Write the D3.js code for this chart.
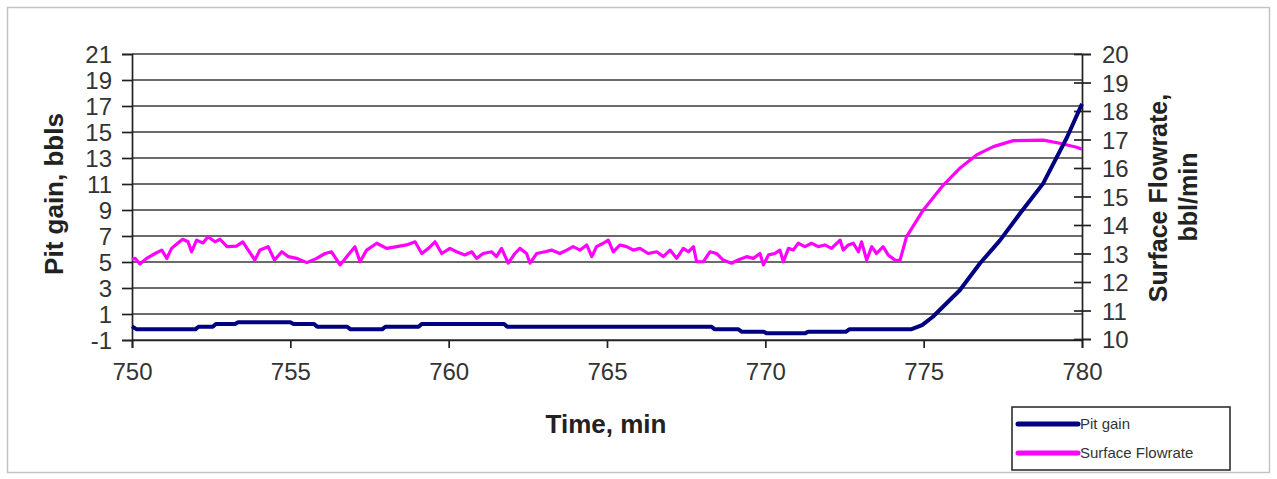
<!DOCTYPE html>
<html>
<head>
<meta charset="utf-8">
<script src="https://cdn.jsdelivr.net/npm/d3@7/dist/d3.min.js"></script>

<style>

  body, html {
    padding: 0;
    margin: 0;
    background: #fff;
  }

  svg {
    display: block;
    font-family: "Liberation Sans", Arial, sans-serif;
  }

</style>
</head>

<body>
  <svg width="1277" height="479"></svg>

  <script>

    // pit gain, bbls (left axis)
    var pitTime = [750, 750.15, 752.0, 752.1, 752.55, 752.65, 753.25, 753.35, 755.0, 755.1,
      755.75, 755.85, 756.8, 756.9, 757.9, 758.0, 759.05, 759.15, 761.75, 761.85,
      768.3, 768.4, 769.15, 769.25, 769.95, 770.05, 771.25, 771.35, 772.55, 772.65,
      774.6, 774.95, 775.29, 776.14, 776.78, 777.41, 778.04, 778.77, 779.52, 780];
    var pitGain = [0.05, -0.18, -0.18, 0.02, 0.02, 0.23, 0.23, 0.36, 0.36, 0.23,
      0.23, 0.02, 0.02, -0.18, -0.18, 0.02, 0.02, 0.23, 0.23, 0.02,
      0.02, -0.18, -0.18, -0.36, -0.36, -0.49, -0.49, -0.36, -0.36, -0.18,
      -0.18, 0.15, 0.79, 2.83, 4.9, 6.66, 8.73, 11.03, 14.56, 17.16];

    // surface flowrate, bbl/min (right axis)
    var flowTime = [750, 750.1, 750.25, 750.46, 750.73, 750.94, 751.1, 751.25, 751.45, 751.6,
      751.77, 751.88, 752.04, 752.24, 752.4, 752.62, 752.78, 753.0, 753.3, 753.5,
      753.67, 753.88, 754.04, 754.3, 754.5, 754.73, 754.94, 755.2, 755.52, 755.83,
      756.1, 756.3, 756.57, 756.78, 757.04, 757.2, 757.41, 757.73, 758.04, 758.36,
      758.67, 758.94, 759.15, 759.36, 759.57, 759.78, 760.04, 760.25, 760.51, 760.73,
      760.88, 761.09, 761.36, 761.51, 761.67, 761.88, 762.09, 762.25, 762.46, 762.57,
      762.78, 763.04, 763.25, 763.51, 763.73, 763.93, 764.15, 764.36, 764.52, 764.67,
      764.88, 765.04, 765.2, 765.41, 765.62, 765.83, 766.04, 766.3, 766.57, 766.78,
      766.99, 767.2, 767.41, 767.57, 767.73, 767.83, 768.04, 768.25, 768.46, 768.67,
      768.93, 769.14, 769.41, 769.62, 769.83, 769.94, 770.1, 770.3, 770.46, 770.57,
      770.73, 770.88, 771.04, 771.25, 771.46, 771.67, 771.88, 772.09, 772.36, 772.46,
      772.62, 772.78, 772.94, 773.04, 773.2, 773.36, 773.51, 773.72, 773.88, 774.09,
      774.25, 774.46, 774.99, 775.62, 776.14, 776.67, 777.2, 777.83, 778.78, 779.3,
      779.83, 780];
    var flowRate = [12.8, 12.83, 12.63, 12.83, 13.0, 13.12, 12.83, 13.18, 13.37, 13.5,
      13.41, 13.06, 13.47, 13.37, 13.59, 13.41, 13.5, 13.24, 13.26, 13.41,
      13.12, 12.77, 13.12, 13.24, 12.77, 13.06, 12.89, 12.83, 12.68, 12.83,
      13.0, 13.06, 12.6, 12.89, 13.24, 12.71, 13.12, 13.36, 13.18, 13.24,
      13.3, 13.41, 13.0, 13.18, 13.41, 13.0, 13.18, 13.06, 12.95, 13.06,
      12.83, 13.0, 13.06, 12.89, 13.18, 12.66, 13.0, 13.18, 13.0, 12.66,
      13.0, 13.06, 13.12, 13.0, 13.12, 13.24, 13.12, 13.3, 12.89, 13.24,
      13.36, 13.47, 13.06, 13.3, 13.24, 13.12, 13.18, 13.0, 13.06, 12.89,
      13.12, 12.83, 13.18, 13.06, 13.24, 12.71, 12.71, 13.06, 13.0, 12.77,
      12.66, 12.77, 12.89, 12.83, 13.0, 12.6, 12.95, 13.0, 13.12, 12.71,
      13.18, 13.12, 13.36, 13.24, 13.36, 13.24, 13.3, 13.18, 13.47, 13.12,
      13.3, 13.36, 13.06, 13.41, 12.77, 13.24, 13.0, 13.24, 12.95, 12.77,
      12.75, 13.59, 14.53, 15.4, 15.99, 16.46, 16.75, 16.96, 16.98, 16.87,
      16.73, 16.66];

    var xTicks = [750, 755, 760, 765, 770, 775, 780];
    var leftTicks = [-1, 1, 3, 5, 7, 9, 11, 13, 15, 17, 19, 21];
    var rightTicks = [10, 11, 12, 13, 14, 15, 16, 17, 18, 19, 20];

    var svg = d3.select('svg');
    var ink = '#222';

    var x = d3.scaleLinear().domain([750, 780]).range([132, 1082]),
        y = d3.scaleLinear().domain([-1, 21]).range([340, 54]),
        y2 = d3.scaleLinear().domain([10, 20]).range([339, 54]);

    // outer frame
    svg.append('rect')
      .attr('x', 7.5).attr('y', 7.5).attr('width', 1262).attr('height', 465)
      .attr('fill', 'none').attr('stroke', '#c4c4c4').attr('stroke-width', 1.5);

    // horizontal grid
    svg.append('g').selectAll('line').data(leftTicks).join('line')
      .attr('x1', x(750)).attr('x2', x(780))
      .attr('y1', function (d) { return y(d); })
      .attr('y2', function (d) { return y(d); })
      .attr('stroke', '#3a3a3a').attr('stroke-width', 1.7);

    // axes
    var plain = function (d) { return String(d); };
    var gx = svg.append('g').attr('transform', 'translate(0,' + y(-1) + ')')
      .call(d3.axisBottom(x).tickValues(xTicks).tickSize(8).tickPadding(15).tickFormat(plain));
    var gy = svg.append('g').attr('transform', 'translate(' + x(750) + ',0)')
      .call(d3.axisLeft(y).tickValues(leftTicks).tickSize(10).tickPadding(10).tickFormat(plain));
    var gy2 = svg.append('g').attr('transform', 'translate(' + x(780) + ',0)')
      .call(d3.axisRight(y2).tickValues(rightTicks).tickSize(9).tickPadding(11).tickFormat(plain));

    gy2.selectAll('.tick line').attr('x1', -8);

    [gx, gy, gy2].forEach(function (g) {
      g.select('.domain').attr('stroke', ink).attr('stroke-width', 1.7);
      g.selectAll('.tick line').attr('stroke', ink).attr('stroke-width', 1.7);
      g.selectAll('.tick text')
        .attr('fill', '#333')
        .style('font-family', '"Liberation Sans", Arial, sans-serif')
        .style('font-size', '24px');
    });
    gy.selectAll('.tick text').attr('dy', '0.36em');
    gy2.selectAll('.tick text').attr('dy', '0.36em');

    // series
    var pitLine = d3.line()
      .x(function (d, i) { return x(pitTime[i]); })
      .y(function (d) { return y(d); });
    var flowLine = d3.line()
      .x(function (d, i) { return x(flowTime[i]); })
      .y(function (d) { return y2(d); });

    svg.append('path').datum(flowRate)
      .attr('d', flowLine)
      .attr('fill', 'none').attr('stroke', '#ff00ff').attr('stroke-width', 3.2)
      .attr('stroke-linejoin', 'round');

    svg.append('path').datum(pitGain)
      .attr('d', pitLine)
      .attr('fill', 'none').attr('stroke', '#000080').attr('stroke-width', 4)
      .attr('stroke-linejoin', 'round');

    // axis titles
    function title(tx, ty, rot, size, label) {
      svg.append('text')
        .attr('transform', 'translate(' + tx + ',' + ty + ')' + (rot ? ' rotate(-90)' : ''))
        .attr('text-anchor', 'middle')
        .attr('font-weight', 'bold').attr('font-size', size).attr('fill', ink)
        .text(label);
    }
    title(63, 194, true, 26, 'Pit gain, bbls');
    title(1167, 198, true, 25, 'Surface Flowrate,');
    title(1197, 197, true, 25, 'bbl/min');
    title(606, 433, false, 26, 'Time, min');

    // legend
    var legend = svg.append('g').attr('transform', 'translate(1012,407)');
    legend.append('rect')
      .attr('width', 218).attr('height', 63)
      .attr('fill', '#fff').attr('stroke', ink).attr('stroke-width', 1.5);

    var entries = [
      { name: 'Pit gain', color: '#000080' },
      { name: 'Surface Flowrate', color: '#ff00ff' }
    ];
    var item = legend.selectAll('g.item').data(entries).join('g')
      .attr('class', 'item')
      .attr('transform', function (d, i) { return 'translate(0,' + (17 + i * 29) + ')'; });
    item.append('line')
      .attr('x1', 6).attr('x2', 66)
      .attr('stroke', function (d) { return d.color; })
      .attr('stroke-width', 5).attr('stroke-linecap', 'round');
    item.append('text')
      .attr('x', 68).attr('dy', '0.35em')
      .attr('font-size', 15).attr('fill', '#333')
      .text(function (d) { return d.name; });

  </script>
</body>
</html>
